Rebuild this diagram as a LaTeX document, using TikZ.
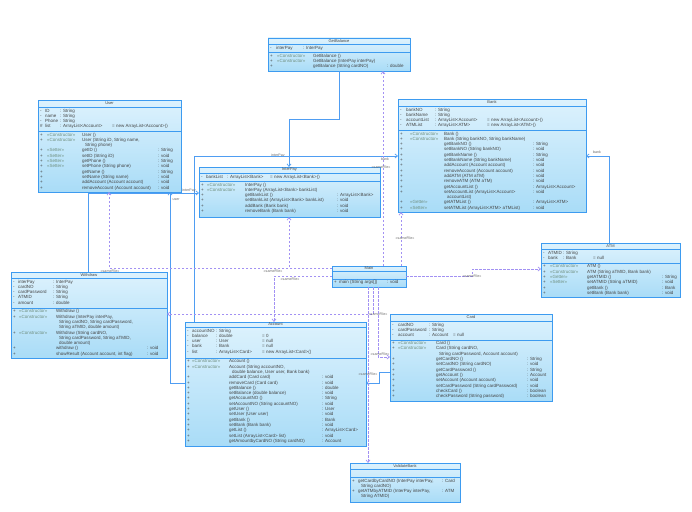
\documentclass[tikz,border=0pt]{standalone}
\usepackage{fontspec}
\setmainfont{Liberation Sans}
\usetikzlibrary{arrows.meta,calc}
\definecolor{boxblue}{HTML}{3D9BF0}
\definecolor{boxtop}{HTML}{DDF2FD}
\definecolor{boxbot}{HTML}{A9DCF7}
\definecolor{assocblue}{HTML}{4F9DF2}
\definecolor{deplav}{HTML}{A291F3}
\definecolor{txtgray}{HTML}{444444}
\definecolor{stgray}{HTML}{6F8F7F}
\newlength{\ca}\newlength{\cb}\newlength{\cc}
\newcommand{\cols}[3]{\global\ca=#1pt\global\cb=#2pt\global\cc=#3pt\relax}
% one compartment row: visibility, name/stereotype, type/signature, init/return
\newcommand{\rw}[4]{\makebox[\ca][l]{#1}\makebox[\cb][l]{#2}\makebox[\cc][l]{#3}#4\\}
\newcommand{\stereo}[1]{\textcolor{stgray}{«#1»}}
\newcommand{\umlbox}[8]{%
  % name, left, top, right, bottom, header y, divider y, title
  \node[classbox, minimum width={(#4-#2)*1pt}, minimum height={(#5-#3)*1pt}] (#1) at (#2,#3) {};
  \draw[boxline] (#2,#6) -- (#4,#6) (#2,#7) -- (#4,#7);
  \node[classtitle] (#1-t) at ({(#2+#4)/2},{(#3+#6)/2}) {#8};
}
\tikzset{
  classbox/.style={draw=boxblue, line width=0.8pt, top color=boxtop, bottom color=boxbot,
    anchor=north west, inner sep=0pt, outer sep=0pt},
  boxline/.style={draw=boxblue, line width=0.6pt},
  classtitle/.style={font=\fontsize{4}{4}\selectfont, text=txtgray, inner sep=0pt},
  classrows/.style={anchor=north west, inner sep=0pt, align=left,
    font=\fontsize{4.5}{5.3}\selectfont, text=txtgray},
  assoc/.style={draw=assocblue, line width=0.7pt, -{Straight Barb[length=2.5pt,width=4pt]}},
  dep/.style={draw=deplav, line width=0.7pt, dash pattern=on 2.5pt off 1.5pt,
    -{Straight Barb[length=2.5pt,width=4pt]}},
  lbl/.style={font=\fontsize{3.6}{4}\selectfont, text=txtgray!80, inner sep=0.3pt}
}
\begin{document}
\begin{tikzpicture}[x=1pt,y=-1pt]
  \fill[white] (0,0) rectangle (692,511);
  \useasboundingbox (0,0) rectangle (692,511);

  % GetBalance
  \umlbox{gb}{268}{38}{410}{71}{44}{52}{GetBalance}
  \cols{6}{27}{0}
  \node[classrows] (gb-a) at (270,45.6) {\rw{-}{interPay}{: InterPay}{}};
  \cols{7}{36}{74}
  \node[classrows] (gb-o) at (270,53.6) {%
    \rw{+}{\stereo{Constructor}}{GetBalance ()}{}%
    \rw{+}{\stereo{Constructor}}{GetBalance (InterPay interPay)}{}%
    \rw{+}{}{getBalance (String cardNO)}{: double}};

  % User
  \umlbox{user}{38}{100}{181}{192}{107}{131}{User}
  \cols{5}{15}{52}
  \node[classrows] (user-a) at (40,108.6) {%
    \rw{-}{ID}{: String}{}%
    \rw{-}{name}{: String}{}%
    \rw{-}{Phone}{: String}{}%
    \rw{\#}{list}{: ArrayList<Account>}{= new ArrayList<Account>()}};
  \cols{7}{35}{76}
  \node[classrows] (user-o) at (40,132.6) {%
    \rw{+}{\stereo{Constructor}}{User ()}{}%
    \rw{+}{\stereo{Constructor}}{User (String iD, String name,}{}%
    \rw{}{}{\hspace{3pt}String phone)}{}%
    \rw{+}{\stereo{Setter}}{getID ()}{: String}%
    \rw{+}{\stereo{Setter}}{setID (String iD)}{: void}%
    \rw{+}{\stereo{Setter}}{getPhone ()}{: String}%
    \rw{+}{\stereo{Setter}}{setPhone (String phone)}{: void}%
    \rw{+}{}{getName ()}{: String}%
    \rw{+}{}{setName (String name)}{: void}%
    \rw{+}{}{addAccount (Account account)}{: void}%
    \rw{+}{}{removeAccount (Account account)}{: void}};

  % Bank
  \umlbox{bank}{398}{99}{586}{212}{106}{130}{Bank}
  \cols{6}{29}{52}
  \node[classrows] (bank-a) at (400,107.6) {%
    \rw{-}{bankNO}{: String}{}%
    \rw{-}{bankName}{: String}{}%
    \rw{-}{accountList}{: ArrayList<Account>}{= new ArrayList<Account>()}%
    \rw{-}{ATMList}{: ArrayList<ATM>}{= new ArrayList<ATM>()}};
  \cols{10}{34}{89}
  \node[classrows] (bank-o) at (400,131.6) {%
    \rw{+}{\stereo{Constructor}}{Bank ()}{}%
    \rw{+}{\stereo{Constructor}}{Bank (String bankNO, String bankName)}{}%
    \rw{+}{}{getBankNO ()}{: String}%
    \rw{+}{}{setBankNO (String bankNO)}{: void}%
    \rw{+}{}{getBankName ()}{: String}%
    \rw{+}{}{setBankName (String bankName)}{: void}%
    \rw{+}{}{addAccount (Account account)}{: void}%
    \rw{+}{}{removeAccount (Account account)}{: void}%
    \rw{+}{}{addATM (ATM aTM)}{: void}%
    \rw{+}{}{removeATM (ATM aTM)}{: void}%
    \rw{+}{}{getAccountList ()}{: ArrayList<Account>}%
    \rw{+}{}{setAccountList (ArrayList<Account>}{: void}%
    \rw{}{}{\hspace{3pt}accountList)}{}%
    \rw{+}{\stereo{Getter}}{getATMList ()}{: ArrayList<ATM>}%
    \rw{+}{\stereo{Setter}}{setATMList (ArrayList<ATM> aTMList)}{: void}};

  % InterPay
  \umlbox{ip}{199}{167}{380}{217}{173}{181}{InterPay}
  \cols{5}{21}{43}
  \node[classrows] (ip-a) at (201,174.6) {%
    \rw{-}{bankList}{: ArrayList<Bank>}{= new ArrayList<Bank>()}};
  \cols{6}{38}{92}
  \node[classrows] (ip-o) at (201,182.6) {%
    \rw{+}{\stereo{Constructor}}{InterPay ()}{}%
    \rw{+}{\stereo{Constructor}}{InterPay (ArrayList<Bank> bankList)}{}%
    \rw{+}{}{getBankList ()}{: ArrayList<Bank>}%
    \rw{+}{}{setBankList (ArrayList<Bank> bankList)}{: void}%
    \rw{+}{}{addBank (Bank bank)}{: void}%
    \rw{+}{}{removeBank (Bank bank)}{: void}};

  % ATM
  \umlbox{atm}{541}{243}{680}{297}{249}{263}{ATM}
  \cols{5}{15}{30}
  \node[classrows] (atm-a) at (543,250.6) {%
    \rw{-}{ATMID}{: String}{}%
    \rw{-}{bank}{: Bank}{= null}};
  \cols{7}{37}{75}
  \node[classrows] (atm-o) at (543,264.4) {%
    \rw{+}{\stereo{Constructor}}{ATM ()}{}%
    \rw{+}{\stereo{Constructor}}{ATM (String aTMID, Bank bank)}{}%
    \rw{+}{\stereo{Getter}}{getATMID ()}{: String}%
    \rw{+}{\stereo{Setter}}{setATMID (String aTMID)}{: void}%
    \rw{+}{}{getBank ()}{: Bank}%
    \rw{+}{}{setBank (Bank bank)}{: void}};

  % Main
  \umlbox{main}{332}{266}{406}{287}{271}{279}{Main}
  \cols{5}{0}{48}
  \node[classrows] (main-o) at (334,280.4) {\rw{+}{}{main (String args[])}{: void}};

  % Withdraw
  \umlbox{wd}{11}{272}{167}{358}{278}{308}{Withdraw}
  \cols{5}{35}{0}
  \node[classrows] (wd-a) at (13,279.6) {%
    \rw{-}{interPay}{: InterPay}{}%
    \rw{-}{cardNO}{: String}{}%
    \rw{-}{cardPassword}{: String}{}%
    \rw{-}{ATMID}{: String}{}%
    \rw{-}{amount}{: double}{}};
  \cols{6}{37}{91}
  \node[classrows] (wd-o) at (13,309.4) {%
    \rw{+}{\stereo{Constructor}}{Withdraw ()}{}%
    \rw{+}{\stereo{Constructor}}{Withdraw (InterPay interPay,}{}%
    \rw{}{}{\hspace{3pt}String cardNO, String cardPassword,}{}%
    \rw{}{}{\hspace{3pt}String aTMID, double amount)}{}%
    \rw{+}{\stereo{Constructor}}{Withdraw (String cardNO,}{}%
    \rw{}{}{\hspace{3pt}String cardPassword, String aTMID,}{}%
    \rw{}{}{\hspace{3pt}double amount)}{}%
    \rw{+}{}{withdraw ()}{: void}%
    \rw{+}{}{showResult (Account account, int flag)}{: void}};

  % Account
  \umlbox{acc}{185}{322}{366}{446}{327}{358}{Account}
  \cols{5}{24}{46}
  \node[classrows] (acc-a) at (187,328.6) {%
    \rw{-}{accountNO}{: String}{}%
    \rw{-}{balance}{: double}{= 0}%
    \rw{-}{user}{: User}{= null}%
    \rw{-}{bank}{: Bank}{= null}%
    \rw{-}{list}{: ArrayList<Card>}{= new ArrayList<Card>()}};
  \cols{5}{37}{93}
  \node[classrows] (acc-o) at (187,359.4) {%
    \rw{+}{\stereo{Constructor}}{Account ()}{}%
    \rw{+}{\stereo{Constructor}}{Account (String accountNO,}{}%
    \rw{}{}{\hspace{3pt}double balance, User user, Bank bank)}{}%
    \rw{+}{}{addCard (Card card)}{: void}%
    \rw{+}{}{removeCard (Card card)}{: void}%
    \rw{+}{}{getBalance ()}{: double}%
    \rw{+}{}{setBalance (double balance)}{: void}%
    \rw{+}{}{getAccountNO ()}{: String}%
    \rw{+}{}{setAccountNO (String accountNO)}{: void}%
    \rw{+}{}{getUser ()}{: User}%
    \rw{+}{}{setUser (User user)}{: void}%
    \rw{+}{}{getBank ()}{: Bank}%
    \rw{+}{}{setBank (Bank bank)}{: void}%
    \rw{+}{}{getList ()}{: ArrayList<Card>}%
    \rw{+}{}{setList (ArrayList<Card> list)}{: void}%
    \rw{+}{}{getAmountbyCardNO (String cardNO)}{: Account}};

  % Card
  \umlbox{card}{390}{314}{552}{401}{321}{340}{Card}
  \cols{6}{31}{24}
  \node[classrows] (card-a) at (392,322.6) {%
    \rw{-}{cardNO}{: String}{}%
    \rw{-}{cardPassword}{: String}{}%
    \rw{-}{account}{: Account}{= null}};
  \cols{6}{38}{91}
  \node[classrows] (card-o) at (392,341.2) {%
    \rw{+}{\stereo{Constructor}}{Card ()}{}%
    \rw{+}{\stereo{Constructor}}{Card (String cardNO,}{}%
    \rw{}{}{\hspace{3pt}String cardPassword, Account account)}{}%
    \rw{+}{}{getCardNO ()}{: String}%
    \rw{+}{}{setCardNO (String cardNO)}{: void}%
    \rw{+}{}{getCardPassword ()}{: String}%
    \rw{+}{}{getAccount ()}{: Account}%
    \rw{+}{}{setAccount (Account account)}{: void}%
    \rw{+}{}{setCardPassword (String cardPassword)}{: void}%
    \rw{+}{}{checkCard ()}{: boolean}%
    \rw{+}{}{checkPassword (String password)}{: boolean}};

  % ValidateBank
  \umlbox{vb}{350}{463}{460}{502}{469}{477}{ValidateBank}
  \cols{6}{0}{84}
  \node[classrows] (vb-o) at (352,478.6) {%
    \rw{+}{}{getCardbyCardNO (InterPay interPay,}{: Card}%
    \rw{}{}{\hspace{3pt}String cardNO)}{}%
    \rw{+}{}{getATMbyATMID (InterPay interPay,}{: ATM}%
    \rw{}{}{\hspace{3pt}String ATMID)}{}};

  % associations
  \draw[assoc] (gb.south) |- (289,119) -- (ip.north -| 289,0);
  \node[lbl] (l-ip1) at (278,156) {interPay};
  \draw[assoc] (acc.north -| 194,0) |- (bank.west |- 0,156);
  \node[lbl] (l-bank1) at (385,159.5) {bank};
  \draw[assoc] (atm.north -| 609,0) |- (bank.east |- 0,156);
  \node[lbl] (l-bank2) at (597,152) {bank};
  \draw[assoc] (wd.north -| 88,0) |- (ip.west |- 0,193);
  \node[lbl] (l-ip2) at (189,190.5) {interPay};
  \draw[assoc] (acc.west |- 0,383) -| (user.south -| 170,0);
  \node[lbl] (l-user) at (176,200) {user};
  \draw[assoc] (card.west |- 0,372) -| (379,383) -- (acc.east |- 0,383);

  % dependencies
  \draw[dep] (main.west |- 0,268) -| (user.south -| 109,0);
  \node[lbl] (d-user) at (110,271) {«sameFile»};
  \draw[dep] (main.west |- 0,268) -| (ip.south -| 289,0);
  \node[lbl] (d-ip) at (273,271.5) {«sameFile»};
  \draw[dep] (main.west |- 0,276) -| (acc.north -| 274,0);
  \node[lbl] (d-acc) at (290,279) {«sameFile»};
  \draw[dep] (main.south -| 373,0) |- (wd.east |- 0,314);
  \node[lbl] (d-wd) at (378,314) {«sameFile»};
  \draw[dep] (main.south -| 368,0) -- (vb.north -| 368,0);
  \node[lbl] (d-vb) at (368,374) {«sameFile»};
  \draw[dep] (main.south -| 378,0) |- (card.west |- 0,357);
  \node[lbl] (d-card) at (380,354) {«sameFile»};
  \draw[dep] (main.north -| 383,0) -- (gb.south -| 383,0);
  \node[lbl] (d-gb) at (381,167) {«sameFile»};
  \draw[dep] (main.north -| 401,0) -- (bank.south -| 401,0);
  \node[lbl] (d-bank) at (405,238) {«sameFile»};
  \draw[dep] (main.east |- 0,276) -- (472,276) |- (atm.west |- 0,269);
  \node[lbl] (d-atm) at (472,276) {«sameFile»};
\end{tikzpicture}
\end{document}
